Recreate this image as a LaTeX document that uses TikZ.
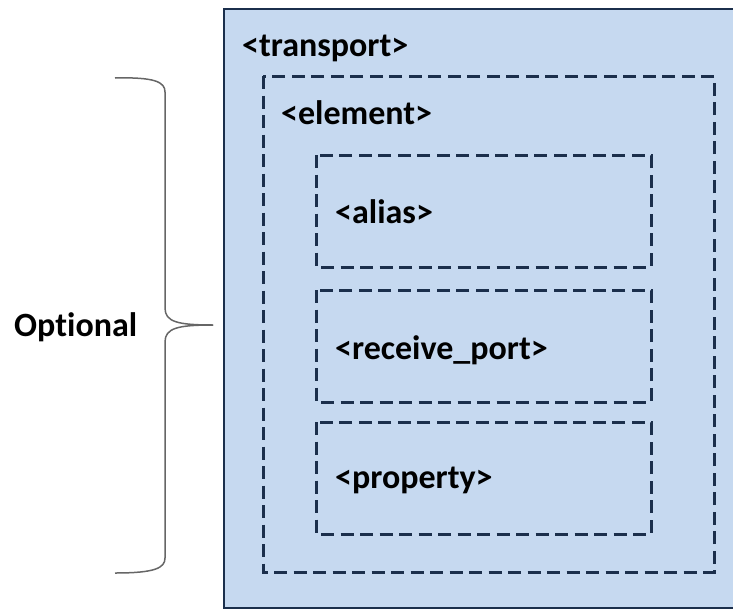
\documentclass[tikz,border=0pt]{standalone}
\usepackage{fontspec}
\setmainfont{Carlito}[Ligatures=NoCommon]
\usetikzlibrary{positioning}
\definecolor{panelblue}{HTML}{C6D9F0}
\definecolor{navyline}{HTML}{1B2F4C}
\tikzset{x=1pt, y=-1pt, % one unit is one pixel of the layout
        tagtext/.style={ % Sets the properties for each tag label
            anchor=west,
            inner sep=0pt,
            font=\fontsize{34}{40}\selectfont\bfseries},
        panel/.style={ % Outer transport panel
            fill=panelblue,
            draw=navyline,
            line width=2pt},
        dashbox/.style={ % Dashed boxes for nested tags
            draw=navyline,
            line width=3pt,
            dash pattern=on 13pt off 6.5pt},
        bracestyle/.style={ % Curly brace on the left
            draw=gray!80!black,
            line width=1.5pt}
        }

\begin{document}
\begin{tikzpicture}
    \useasboundingbox (0,0) rectangle (733,610);
    \clip (0,0) rectangle (733,610);

    \draw[panel]   (224,9)   rectangle (770,608);
    \draw[dashbox] (263,76)  rectangle (714,572);
    \draw[dashbox] (316,155) rectangle (651,267);
    \draw[dashbox] (316,290) rectangle (651,402);
    \draw[dashbox] (316,422) rectangle (651,534);

    \node[tagtext] (transport) at (242,48)  {<transport>};
    \node[tagtext] (element)   at (281,113) {<element>};
    \node[tagtext] (alias)     at (335,212) {<alias>};
    \node[tagtext] (receive)   at (335,350) {<receive\_port>};
    \node[tagtext] (property)  at (335,480) {<property>};

    \coordinate (bracetop) at (115,78);
    \coordinate (bracetip) at (213,325);
    \coordinate (bracebot) at (115,573);
    \node[tagtext] (optional) at (14,327) {Optional};

    \draw[bracestyle] (bracetop) .. controls (155,77) and (165,82) .. (165,92)
        -- (165,308) .. controls (165,322) and (178,325) .. (bracetip);
    \draw[bracestyle] (bracetip) .. controls (178,325) and (165,328) .. (165,342)
        -- (165,558) .. controls (165,568) and (155,573) .. (bracebot);
\end{tikzpicture}
\end{document}
